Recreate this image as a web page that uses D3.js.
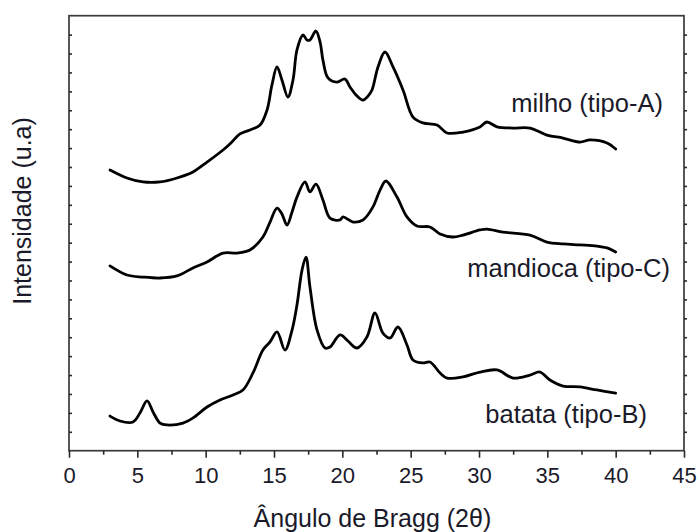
<!DOCTYPE html>
<html>
<head>
<meta charset="utf-8">
<script src="https://cdn.jsdelivr.net/npm/d3@7"></script>
<style>
  html, body { margin: 0; padding: 0; background: #fff; }
  svg { display: block; }
  text { font-family: "Liberation Sans", Arial, sans-serif; fill: #1a1a2a; }
</style>
</head>
<body>
<svg id="chart" width="697" height="532"></svg>
<script>
// ---- data (2θ in degrees, intensity in arbitrary units) ----
const milho = [
  [3.00,14.84],[4.24,14.42],[5.41,14.21],[6.66,14.21],[7.90,14.42],[9.07,14.74],
  [10.10,15.26],[11.27,15.90],[11.85,16.27],[12.51,16.75],[13.24,16.96],[13.98,17.22],
  [14.49,18.01],[14.85,19.34],[15.22,20.29],[15.58,19.60],[16.02,18.70],[16.39,19.60],
  [16.68,21.19],[17.12,21.98],[17.41,21.72],[17.63,21.72],[18.07,22.19],[18.37,21.61],
  [18.58,20.66],[18.95,19.71],[19.61,19.49],[20.19,19.65],[20.56,19.23],[21.00,18.81],
  [21.51,18.54],[21.88,18.75],[22.17,19.07],[22.61,20.29],[23.12,21.08],[23.71,20.29],
  [24.44,19.07],[25.17,17.64],[25.90,17.33],[26.93,17.22],[27.66,16.80],[28.83,16.85],
  [30.07,17.12],[30.58,17.38],[31.32,17.12],[32.49,17.06],[33.73,17.06],[34.97,16.69],
  [36.15,16.53],[37.39,16.32],[38.12,16.43],[39.37,16.27],[40.00,15.95]
];
const mandioca = [
  [3.00,9.77],[4.24,9.29],[5.41,9.18],[6.66,9.13],[7.90,9.24],[9.07,9.66],
  [10.10,9.98],[11.27,10.45],[12.29,10.45],[13.24,10.61],[14.19,11.30],[14.71,12.09],
  [15.22,12.83],[15.58,12.52],[15.95,11.93],[16.32,12.62],[16.68,13.41],[17.27,14.21],
  [17.63,13.68],[18.07,14.10],[18.58,13.26],[19.10,12.30],[19.83,12.20],[20.05,12.36],
  [20.78,12.09],[21.51,12.20],[22.24,12.89],[22.76,13.78],[23.19,14.26],[24.00,13.41],
  [24.73,12.36],[25.46,11.88],[26.41,11.83],[27.15,11.46],[28.10,11.30],[28.83,11.40],
  [30.07,11.67],[30.58,11.72],[31.76,11.56],[33.73,11.40],[34.97,11.03],[36.15,10.93],
  [37.39,10.88],[38.63,10.82],[39.37,10.72],[40.00,10.51]
];
const batata = [
  [3.00,1.83],[3.73,1.57],[4.68,1.52],[5.19,1.99],[5.71,2.63],[6.15,2.05],
  [6.66,1.46],[7.17,1.36],[8.34,1.46],[9.07,1.73],[10.10,2.31],[11.05,2.68],
  [12.00,2.95],[12.73,3.21],[13.46,4.11],[14.19,5.32],[14.71,5.75],[15.22,6.28],
  [15.80,5.32],[16.32,6.38],[16.68,7.70],[17.05,9.55],[17.34,10.24],[17.63,8.66],
  [18.15,6.38],[18.73,5.43],[19.10,5.48],[19.83,6.12],[20.34,5.85],[21.07,5.43],
  [21.80,6.01],[22.39,7.28],[22.97,6.22],[23.49,5.96],[24.07,6.54],[24.73,5.59],
  [25.17,4.80],[25.90,4.64],[26.41,4.69],[27.15,4.11],[27.66,3.84],[28.83,3.90],
  [30.07,4.16],[31.32,4.27],[32.49,3.84],[33.73,4.00],[34.46,4.16],[35.19,3.74],
  [36.15,3.42],[37.39,3.37],[38.63,3.21],[40.00,3.05]
];
const seriesNames = ["milho (tipo-A)", "mandioca (tipo-C)", "batata (tipo-B)"];
const xTickValues = [0, 5, 10, 15, 20, 25, 30, 35, 40, 45];
const xMinorTicks = [2.5, 7.5, 12.5, 17.5, 22.5, 27.5, 32.5, 37.5, 42.5];
const yTickValues = d3.range(1, 23);
const xTitle = "Ângulo de Bragg (2θ)";
const yTitle = "Intensidade (u.a)";

// ---- layout ----
const W = 697, H = 532;
const m = { top: 15.7, right: 13, bottom: 81.3, left: 69 };
const iw = W - m.left - m.right, ih = H - m.top - m.bottom;
const svg = d3.select("#chart");
const g = svg.append("g").attr("transform", `translate(${m.left},${m.top})`);

const x = d3.scaleLinear().domain([0, 45]).range([0, iw]);
const y = d3.scaleLinear().domain([0, 23]).range([ih, 0]);

// curves
const line = d3.line().x(d => x(d[0])).y(d => y(d[1])).curve(d3.curveCatmullRom.alpha(0.5));
[milho, mandioca, batata].forEach(s => {
  g.append("path").datum(s)
    .attr("d", line)
    .attr("fill", "none")
    .attr("stroke", "#000")
    .attr("stroke-width", 2.8)
    .attr("stroke-linejoin", "round")
    .attr("stroke-linecap", "round");
});

// frame
g.append("rect").attr("x", 0).attr("y", 0).attr("width", iw).attr("height", ih)
  .attr("fill", "none").attr("stroke", "#3a3a3a").attr("stroke-width", 1.7);

// x axis
const xAxis = g.append("g").attr("transform", `translate(0,${ih})`)
  .call(d3.axisBottom(x).tickValues(xTickValues).tickSize(7).tickPadding(10).tickSizeOuter(0).tickFormat(d3.format("d")));
xAxis.select(".domain").remove();
xAxis.selectAll(".tick line").attr("stroke", "#2a2a2a").attr("stroke-width", 1.6);
xAxis.selectAll(".tick text").attr("font-size", 22).attr("fill", "#1a1a2a");

const xMinor = g.append("g").attr("transform", `translate(0,${ih})`)
  .call(d3.axisBottom(x).tickValues(xMinorTicks).tickSize(4).tickFormat(""));
xMinor.select(".domain").remove();
xMinor.selectAll(".tick line").attr("stroke", "#2a2a2a").attr("stroke-width", 1.6);

// y axis ticks (no labels)
const yLeft = g.append("g")
  .call(d3.axisRight(y).tickValues(yTickValues).tickSize(3).tickFormat(""));
yLeft.select(".domain").remove();
yLeft.selectAll(".tick line").attr("stroke", "#2a2a2a").attr("stroke-width", 1.6);

const yRight = g.append("g").attr("transform", `translate(${iw},0)`)
  .call(d3.axisRight(y).tickValues(yTickValues).tickSize(3).tickFormat(""));
yRight.select(".domain").remove();
yRight.selectAll(".tick line").attr("stroke", "#2a2a2a").attr("stroke-width", 1.6);

// series labels
const labelPos = [[43.46, 17.9], [43.97, 9.2], [42.29, 1.45]];
seriesNames.forEach((name, i) => {
  g.append("text")
    .attr("x", x(labelPos[i][0]))
    .attr("y", y(labelPos[i][1]))
    .attr("text-anchor", "end")
    .attr("font-size", 25.5)
    .text(name);
});

// titles
svg.append("text")
  .attr("x", m.left + x(22.2)).attr("y", 527)
  .attr("text-anchor", "middle").attr("font-size", 25)
  .text(xTitle);
svg.append("text")
  .attr("transform", `translate(31,${211}) rotate(-90)`)
  .attr("text-anchor", "middle").attr("font-size", 25)
  .text(yTitle);
</script>
</body>
</html>
